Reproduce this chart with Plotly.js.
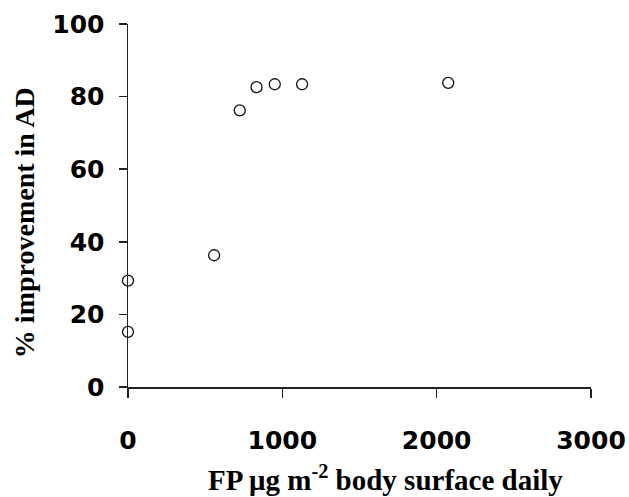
<!DOCTYPE html>
<html>
<head>
<meta charset="utf-8">
<script src="https://cdn.plot.ly/plotly-3.0.1.min.js"></script>
<style>html,body{margin:0;padding:0;background:#fff;}#chart{width:629px;height:497px;}</style>
</head>
<body>
<div id="chart"></div>
<script>
// Data
var doseFP = [0, 0, 558, 724, 833, 951, 1128, 2075];
var improvementAD = [29.3, 15.2, 36.3, 76.2, 82.6, 83.4, 83.4, 83.8];
var xTickVals = [0, 1000, 2000, 3000];
var xTickText = ['0', '1000', '2000', '3000'];
var yTickVals = [0, 20, 40, 60, 80, 100];
var xTitle = 'FP \u03bcg m<sup>-2</sup> body surface daily';
var yTitle = '% improvement in AD';

var tickFont = {family: '"DejaVu Sans", sans-serif', size: 25, color: '#000', weight: 'bold'};
var xTitleFont = {family: '"Liberation Serif", "Times New Roman", serif', size: 29, color: '#000', weight: 'bold'};
var yTitleFont = {family: '"Liberation Serif", "Times New Roman", serif', size: 28, color: '#000', weight: 'bold'};

var trace = {
  x: doseFP,
  y: improvementAD,
  type: 'scatter',
  mode: 'markers',
  cliponaxis: false,
  marker: {symbol: 'circle-open', size: 11, color: '#111', line: {width: 1.3, color: '#111'}},
  hoverinfo: 'x+y'
};

var layout = {
  width: 629, height: 497,
  margin: {l: 128, r: 38, t: 24, b: 110, pad: 0},
  paper_bgcolor: '#fff', plot_bgcolor: '#fff',
  showlegend: false,
  xaxis: {
    range: [0, 3000], tickmode: 'array', tickvals: xTickVals, ticktext: xTickText,
    showgrid: false, zeroline: false, showline: true, linecolor: '#222', linewidth: 1.5,
    ticks: 'outside', ticklen: 9, tickwidth: 1.5, tickcolor: '#222',
    tickfont: tickFont, ticklabelstandoff: 21
  },
  yaxis: {
    range: [0, 100], tickmode: 'array', tickvals: yTickVals,
    showgrid: false, zeroline: false, showline: true, linecolor: '#222', linewidth: 1.5,
    ticks: 'outside', ticklen: 8, tickwidth: 1.5, tickcolor: '#222',
    tickfont: tickFont, ticklabelstandoff: 9
  },
  annotations: [
    {text: xTitle, xref: 'paper', yref: 'paper', x: 0.557, y: -0.252, xanchor: 'center', yanchor: 'middle',
     showarrow: false, font: xTitleFont},
    {text: yTitle, xref: 'paper', yref: 'paper', x: -0.222, y: 0.452, xanchor: 'center', yanchor: 'middle',
     textangle: -90, showarrow: false, font: yTitleFont}
  ]
};

Plotly.newPlot('chart', [trace], layout, {displayModeBar: false, staticPlot: true});
</script>
</body>
</html>
